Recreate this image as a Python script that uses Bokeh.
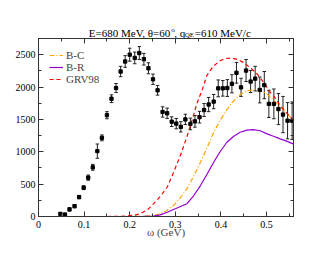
from bokeh.plotting import figure
from bokeh.models import (ColumnDataSource, Whisker, TeeHead, Legend, LegendItem,
                          LinearAxis, FixedTicker, CustomJSTickFormatter, Range1d)
from bokeh.layouts import column
from bokeh.core.properties import value
from bokeh.embed import file_html
from bokeh.resources import INLINE

# ---- data ----
omega = [0.048, 0.058, 0.068, 0.079, 0.089, 0.099, 0.109, 0.119, 0.129, 0.139,
         0.150, 0.160, 0.170, 0.180, 0.190, 0.200, 0.211, 0.221, 0.231, 0.241,
         0.251, 0.261, 0.272, 0.282, 0.292, 0.302, 0.312, 0.322, 0.333, 0.343,
         0.353, 0.363, 0.373, 0.384, 0.394, 0.404, 0.414, 0.424, 0.434, 0.444,
         0.455, 0.465, 0.475, 0.485, 0.495, 0.505, 0.516, 0.526, 0.536, 0.546, 0.556]
sigma = [40, 30, 110, 160, 300, 445, 600, 760, 1010, 1215,
         1565, 1820, 1985, 2240, 2395, 2500, 2450, 2525, 2430, 2290,
         2120, 1950, 1615, 1595, 1465, 1435, 1385, 1500, 1430, 1470,
         1535, 1645, 1730, 1775, 1980, 1980, 1985, 2050, 2220, 1995,
         2255, 2085, 2130, 1955, 2030, 1740, 1740, 1660, 1575, 1480, 1480]
err = [20, 20, 25, 25, 25, 30, 40, 45, 110, 45,
       55, 60, 70, 80, 90, 100, 90, 100, 90, 85,
       80, 75, 80, 80, 75, 80, 80, 80, 90, 90,
       90, 100, 110, 110, 130, 120, 130, 140, 160, 140,
       170, 170, 190, 200, 210, 210, 230, 240, 280, 280, 290]

grv_x = [0.058, 0.10, 0.15, 0.19, 0.21, 0.223, 0.24, 0.252, 0.267, 0.282, 0.296, 0.311,
         0.325, 0.333, 0.347, 0.36, 0.369, 0.383, 0.398, 0.41, 0.424, 0.437, 0.449,
         0.464, 0.479, 0.494, 0.508, 0.52, 0.53, 0.543, 0.556]
grv_y = [0, 0, 0, 5, 20, 41, 110, 196, 310, 452, 680, 941,
         1224, 1404, 1739, 1980, 2176, 2320, 2407, 2440, 2449, 2425, 2381,
         2300, 2202, 2070, 1918, 1820, 1713, 1610, 1508]

bc_x = [0.058, 0.15, 0.2, 0.23, 0.25, 0.267, 0.28, 0.296, 0.31, 0.325, 0.34, 0.355,
        0.37, 0.384, 0.398, 0.413, 0.428, 0.442, 0.457, 0.475, 0.49, 0.501, 0.512,
        0.523, 0.538, 0.552]
bc_y = [0, 0, 0, 3, 12, 41, 90, 170, 280, 427, 620, 838,
        1070, 1301, 1481, 1650, 1790, 1880, 1944, 1960, 1935, 1893, 1820,
        1739, 1640, 1533]

br_x = [0.058, 0.2, 0.23, 0.252, 0.267, 0.282, 0.3, 0.325, 0.34, 0.355, 0.37, 0.384,
        0.398, 0.413, 0.428, 0.442, 0.457, 0.471, 0.486, 0.501, 0.515, 0.53, 0.545, 0.558]
br_y = [0, 0, 2, 5, 25, 66, 120, 196, 320, 478, 660, 838,
        1000, 1147, 1240, 1301, 1335, 1343, 1325, 1276, 1240, 1199, 1160, 1122]

x_ticks = [0, 0.1, 0.2, 0.3, 0.4, 0.5]
x_minor = [0.05, 0.15, 0.25, 0.35, 0.45, 0.55]
y_ticks = [0, 500, 1000, 1500, 2000, 2500]
y_minor = [250, 750, 1250, 1750, 2250, 2750]

title_parts = ["E=680 MeV, θ=60", "o", ", q", "QE", "=610 MeV/c"]

FONT = "Liberation Serif"
FRAME = "#333333"
BL, BR = 38, 37          # left / right borders shared by both strips

# ---- title strip (pixel coordinates relative to its frame, no axes) ----
TH = 38
tf = figure(width=330, height=TH, output_backend="svg", toolbar_location=None,
            x_range=Range1d(0, 330 - BL - BR), y_range=Range1d(0, TH),
            x_axis_location=None, y_axis_location=None,
            min_border_left=BL, min_border_right=BR, min_border_top=0, min_border_bottom=0)
tf.grid.visible = False
tf.outline_line_color = None
tsrc = ColumnDataSource(data=dict(
    t=title_parts,
    x=[50.3, 132.8, 135.8, 146.3, 156.3],
    y=[5.5, 9, 5.5, 3.9, 5.5],
    s=["11px", "7px", "11px", "7px", "11px"]))
tf.text(x="x", y="y", text="t", source=tsrc, text_font=value(FONT), text_font_size="s",
        text_color="black", text_baseline="alphabetic", text_align="left")

# ---- main plot ----
p = figure(width=330, height=255 - TH, output_backend="svg", toolbar_location=None,
           x_range=Range1d(0, 0.559), y_range=Range1d(0, 2750),
           min_border_left=BL, min_border_right=BR, min_border_top=0, min_border_bottom=39)
p.grid.visible = False
p.outline_line_color = FRAME
p.outline_line_width = 1

fmt_x = CustomJSTickFormatter(code="return tick == 0 ? '0' : tick.toFixed(1);")
fmt_y = CustomJSTickFormatter(code="return tick.toFixed(0);")
fmt_none = CustomJSTickFormatter(code="return '';")


def style_axis(ax, ticks, minor, fmt, size="10px"):
    ax.ticker = FixedTicker(ticks=ticks, minor_ticks=minor)
    ax.formatter = fmt
    ax.major_tick_in = 5
    ax.major_tick_out = 0
    ax.minor_tick_in = 3
    ax.minor_tick_out = 0
    ax.axis_line_color = FRAME
    ax.major_tick_line_color = FRAME
    ax.minor_tick_line_color = FRAME
    ax.major_label_text_font = FONT
    ax.major_label_text_font_size = size
    ax.major_label_text_color = "black"


style_axis(p.xaxis[0], x_ticks, x_minor, fmt_x)
style_axis(p.yaxis[0], y_ticks, y_minor, fmt_y)
p.xaxis[0].major_label_standoff = 4
p.yaxis[0].major_label_standoff = 3
p.xaxis[0].axis_label = "ω (GeV)"
p.xaxis[0].axis_label_text_font = FONT
p.xaxis[0].axis_label_text_font_size = "11px"
p.xaxis[0].axis_label_text_font_style = "normal"
p.xaxis[0].axis_label_standoff = -5

top = LinearAxis()
style_axis(top, x_ticks, x_minor, fmt_none, "0px")
top.major_label_standoff = 0
p.add_layout(top, "above")
right = LinearAxis()
style_axis(right, y_ticks, y_minor, fmt_none, "0px")
right.major_label_standoff = 0
p.add_layout(right, "right")

# curves
r_bc = p.line(bc_x, bc_y, line_color="#ffa500", line_width=1.2, line_dash="5 2 1 2")
r_br = p.line(br_x, br_y, line_color="#9400d3", line_width=1.2)
r_grv = p.line(grv_x, grv_y, line_color="#ff0000", line_width=1.2, line_dash="4 3")

# data with error bars
src = ColumnDataSource(data=dict(
    x=omega, y=sigma,
    lo=[s - e for s, e in zip(sigma, err)],
    hi=[s + e for s, e in zip(sigma, err)]))
wh = Whisker(source=src, base="x", upper="hi", lower="lo", line_color="#222222", line_width=1,
             upper_head=TeeHead(size=3.5, line_color="#222222", line_width=1),
             lower_head=TeeHead(size=3.5, line_color="#222222", line_width=1))
p.add_layout(wh)
p.scatter("x", "y", source=src, marker="square", size=3.3, fill_color="black", line_color="black")

legend = Legend(items=[LegendItem(label="B-C", renderers=[r_bc]),
                       LegendItem(label="B-R", renderers=[r_br]),
                       LegendItem(label="GRV98", renderers=[r_grv])],
                location="top_left", label_text_font=FONT, label_text_font_size="11px",
                glyph_width=14, glyph_height=10, label_height=10, spacing=0, padding=0, margin=11,
                label_standoff=3, background_fill_alpha=0, border_line_alpha=0)
p.add_layout(legend)

layout = column(tf, p, spacing=0)
open("out.html", "w").write(file_html(layout, INLINE))
